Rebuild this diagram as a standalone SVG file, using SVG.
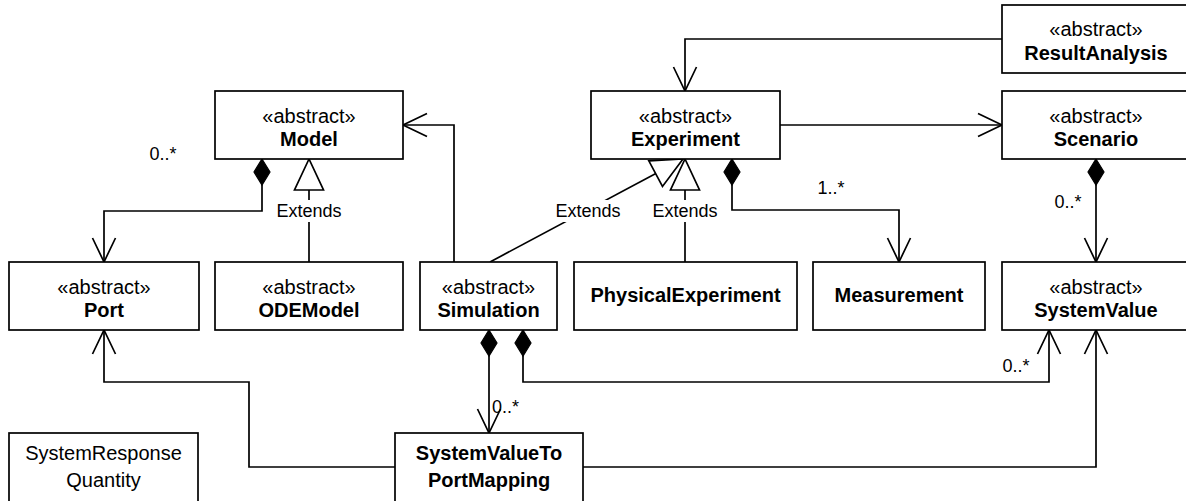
<svg xmlns="http://www.w3.org/2000/svg" width="1186" height="501" viewBox="0 0 1186 501">
<style>
.box{fill:#fff;stroke:#000;stroke-width:1.7}
.t{font-family:"Liberation Sans",Arial,sans-serif;font-size:20px;fill:#000;text-anchor:middle}
.b{font-weight:bold}
.e{fill:none;stroke:#000;stroke-width:1.7}
.lbl{font-family:"Liberation Sans",Arial,sans-serif;font-size:18px;fill:#000}
.lbg{fill:#fff}
</style>
<defs>
<marker id="open" markerUnits="userSpaceOnUse" orient="auto" refX="0" refY="0" viewBox="-27 -14 30 28" markerWidth="30" markerHeight="28" overflow="visible">
<path d="M-24,-11.5 L0,0 L-24,11.5" fill="none" stroke="#000" stroke-width="1.7"/>
</marker>
<marker id="dia" markerUnits="userSpaceOnUse" orient="auto" refX="0" refY="0" viewBox="-2 -10 30 20" markerWidth="30" markerHeight="20" overflow="visible">
<path d="M0,0 L13,-8 L26,0 L13,8 Z" fill="#000" stroke="#000" stroke-width="1.2"/>
</marker>
<marker id="gen" markerUnits="userSpaceOnUse" orient="auto" refX="0" refY="0" viewBox="-34 -17 36 34" markerWidth="36" markerHeight="34" overflow="visible">
<path d="M0,0 L-31,-14.5 L-31,14.5 Z" fill="#fff" stroke="#000" stroke-width="1.7"/>
</marker>
</defs>

<g id="connectors">
<path class="e" d="M262,159 L262,211 L104,211 L104,262" marker-start="url(#dia)" marker-end="url(#open)"/>
<path class="e" d="M309,262 L309,159" marker-end="url(#gen)"/>
<path class="e" d="M454,262 L454,125 L403,125" marker-end="url(#open)"/>
<path class="e" d="M490,262 L683,159" marker-end="url(#gen)"/>
<path class="e" d="M685,262 L685,159" marker-end="url(#gen)"/>
<path class="e" d="M732,159 L732,210 L899,210 L899,262" marker-start="url(#dia)" marker-end="url(#open)"/>
<path class="e" d="M1002,39 L685,39 L685,91" marker-end="url(#open)"/>
<path class="e" d="M780,125 L1002,125" marker-end="url(#open)"/>
<path class="e" d="M1096,159 L1096,262" marker-start="url(#dia)" marker-end="url(#open)"/>
<path class="e" d="M489,330 L489,433" marker-start="url(#dia)" marker-end="url(#open)"/>
<path class="e" d="M523,330 L523,382 L1049,382 L1049,330" marker-start="url(#dia)" marker-end="url(#open)"/>
<path class="e" d="M395,467 L249,467 L249,382 L104,382 L104,330" marker-end="url(#open)"/>
<path class="e" d="M583,467 L1096,467 L1096,330" marker-end="url(#open)"/>
<rect class="lbg" x="276" y="200" width="66" height="22"/>
<text class="lbl" x="309" y="217" text-anchor="middle">Extends</text>
<rect class="lbg" x="555" y="200" width="66" height="22"/>
<text class="lbl" x="588" y="217" text-anchor="middle">Extends</text>
<rect class="lbg" x="652" y="200" width="66" height="22"/>
<text class="lbl" x="685" y="217" text-anchor="middle">Extends</text>
<text class="lbl" x="163" y="160" text-anchor="middle">0..*</text>
<text class="lbl" x="831" y="194" text-anchor="middle">1..*</text>
<text class="lbl" x="1068" y="208" text-anchor="middle">0..*</text>
<text class="lbl" x="492" y="413">0..*</text>
<text class="lbl" x="1016" y="372" text-anchor="middle">0..*</text>
</g>

<g id="Model"><rect class="box" x="215" y="91" width="188" height="68"/><text class="t" x="309" y="123">«abstract»</text><text class="t b" x="309" y="146">Model</text></g>
<g id="Experiment"><rect class="box" x="591" y="91" width="189" height="68"/><text class="t" x="685.5" y="123">«abstract»</text><text class="t b" x="685.5" y="146">Experiment</text></g>
<g id="ResultAnalysis"><rect class="box" x="1002" y="5" width="190" height="68"/><text class="t" x="1096" y="36">«abstract»</text><text class="t b" x="1096" y="60">ResultAnalysis</text></g>
<g id="Scenario"><rect class="box" x="1002" y="91" width="190" height="68"/><text class="t" x="1096" y="123">«abstract»</text><text class="t b" x="1096" y="146">Scenario</text></g>
<g id="Port"><rect class="box" x="9" y="262" width="190" height="68"/><text class="t" x="104" y="294">«abstract»</text><text class="t b" x="104" y="317">Port</text></g>
<g id="ODEModel"><rect class="box" x="215" y="262" width="188" height="68"/><text class="t" x="309" y="294">«abstract»</text><text class="t b" x="309" y="317">ODEModel</text></g>
<g id="Simulation"><rect class="box" x="420" y="262" width="137" height="68"/><text class="t" x="488.5" y="294">«abstract»</text><text class="t b" x="488.5" y="317">Simulation</text></g>
<g id="PhysicalExperiment"><rect class="box" x="574" y="262" width="223" height="68"/><text class="t b" x="685.5" y="302">PhysicalExperiment</text></g>
<g id="Measurement"><rect class="box" x="813" y="262" width="172" height="68"/><text class="t b" x="899" y="302">Measurement</text></g>
<g id="SystemValue"><rect class="box" x="1002" y="262" width="190" height="68"/><text class="t" x="1096" y="294">«abstract»</text><text class="t b" x="1096" y="317">SystemValue</text></g>
<g id="SystemResponseQuantity"><rect class="box" x="9" y="433" width="189" height="70"/><text class="t" x="103.5" y="460">SystemResponse</text><text class="t" x="103.5" y="487">Quantity</text></g>
<g id="SystemValueToPortMapping"><rect class="box" x="395" y="433" width="188" height="70"/><text class="t b" x="489" y="460">SystemValueTo</text><text class="t b" x="489" y="487">PortMapping</text></g>
</svg>
